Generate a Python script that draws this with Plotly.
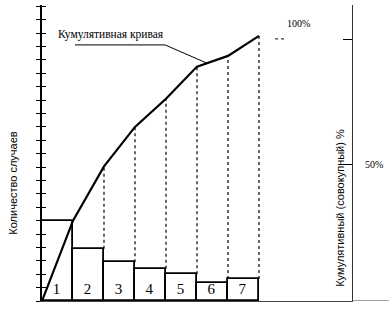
import plotly.graph_objects as go

categories = [1, 2, 3, 4, 5, 6, 7]
counts = [6.0, 3.9, 2.9, 2.4, 2.0, 1.35, 1.65]
cumulative = [0, 6.0, 10.05, 13.0, 15.1, 17.5, 18.3, 19.8]
count_ticks = list(range(0, 23))
pct_ticks = [50, 100]
pct_labels = ["50%", ""]

fig = go.Figure()

edges = [c + 0.5 for c in [0] + categories]

# dashed verticals from bar tops up to cumulative curve
dx, dy = [], []
for i in range(1, len(edges)):
    left = counts[i - 1]
    right = counts[i] if i < len(counts) else 0
    low = max(left, right)
    if cumulative[i] - low > 0.3:
        dx += [edges[i], edges[i], None]
        dy += [low, cumulative[i], None]
fig.add_trace(go.Scatter(x=dx, y=dy, mode="lines",
                         line=dict(color="black", width=1.2, dash="dot"),
                         hoverinfo="skip", showlegend=False))

fig.add_trace(go.Bar(
    x=categories, y=counts, width=1,
    marker=dict(color="white", line=dict(color="black", width=1.8)),
    text=[str(c) for c in categories], textposition="inside",
    insidetextanchor="start", textangle=0,
    textfont=dict(family="Liberation Serif", size=15, color="black"),
    showlegend=False, hoverinfo="skip"))

fig.add_trace(go.Scatter(x=edges, y=cumulative, mode="lines",
                         line=dict(color="black", width=2.2),
                         showlegend=False, hoverinfo="skip"))

# invisible helpers so overlay axes get drawn
fig.add_trace(go.Scatter(x=[1], y=[50], yaxis="y2", mode="markers",
                         marker=dict(opacity=0), showlegend=False, hoverinfo="skip"))
fig.add_trace(go.Scatter(x=[1], y=[1], yaxis="y3", mode="markers",
                         marker=dict(opacity=0), showlegend=False, hoverinfo="skip"))

yr = [0, 22.1]
fig.update_layout(
    width=389, height=311,
    margin=dict(l=42, r=37, t=5, b=10),
    paper_bgcolor="white", plot_bgcolor="white",
    bargap=0,
    uniformtext=dict(minsize=15, mode="show"),
    xaxis=dict(range=[0.5, 10.5], showgrid=False, zeroline=False,
               showticklabels=False, ticks="", showline=True,
               linecolor="#444", linewidth=1),
    yaxis=dict(range=yr, tickvals=count_ticks, ticks="outside", ticklen=4,
               tickwidth=1.3, tickcolor="black", showticklabels=False,
               showgrid=False, zeroline=False, showline=True,
               linecolor="black", linewidth=1.5),
    yaxis3=dict(range=yr, overlaying="y", side="left", tickvals=count_ticks,
                ticks="inside", ticklen=4, tickwidth=1.3, tickcolor="black",
                showticklabels=False, showgrid=False, zeroline=False,
                showline=False),
    yaxis2=dict(range=[-4.8, 113.6], overlaying="y", side="right",
                tickvals=pct_ticks, ticktext=pct_labels, ticks="inside",
                ticklen=9, tickwidth=1.2, tickcolor="black",
                ticklabelstandoff=10,
                tickfont=dict(family="Liberation Serif", size=10, color="black"),
                showgrid=False, zeroline=False, showline=True,
                linecolor="#333", linewidth=1.2),
    font=dict(color="black"),
)

fig.add_annotation(x=2.73, y=19.87, xref="x", yref="y",
                   text="Кумулятивная кривая", showarrow=False,
                   font=dict(family="Liberation Serif", size=11.5, color="black"))
fig.add_shape(type="path", xref="x", yref="y",
              path="M 1.565 19.12 L 4.47 19.12 L 5.82 17.76",
              line=dict(color="black", width=1))
fig.add_annotation(x=8.76, y=20.7, xref="x", yref="y", text="100%",
                   showarrow=False,
                   font=dict(family="Liberation Serif", size=10, color="black"))
fig.add_shape(type="line", xref="x", yref="y", x0=8.02, x1=8.4, y0=19.57, y1=19.57,
              line=dict(color="black", width=1, dash="dot"))
fig.add_annotation(x=10.11, y=6.95, xref="x", yref="y",
                   text="Кумулятивный (совокупный) %", showarrow=False,
                   textangle=-90,
                   font=dict(family="Liberation Sans", size=11, color="black"))
fig.add_annotation(x=-0.12, y=0.399, xref="paper", yref="paper",
                   text="Количество случаев", showarrow=False, textangle=-90,
                   font=dict(family="Liberation Sans", size=11, color="black"))
fig.add_shape(type="line", xref="paper", yref="y", x0=1, x1=1.12, y0=0, y1=0,
              line=dict(color="#444", width=1))

fig.write_html("out.html")
